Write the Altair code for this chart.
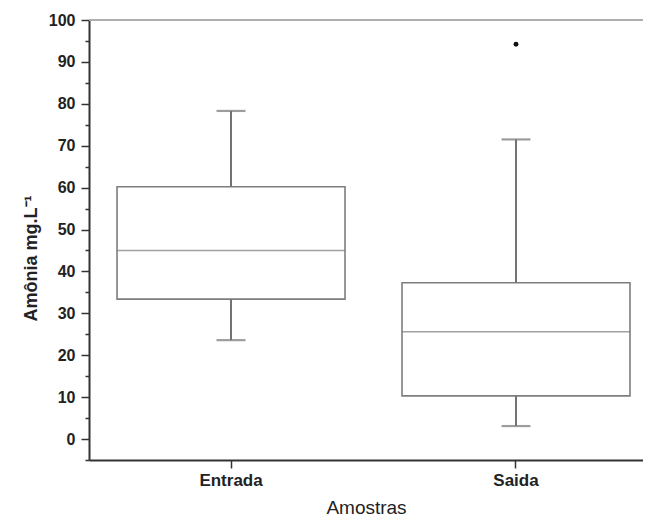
import altair as alt
import pandas as pd

# Summary statistics
amostras = ["Entrada", "Saida"]
minimo = [23.6, 3.1]
q1 = [33.4, 10.3]
mediana = [45.0, 25.6]
q3 = [60.2, 37.3]
maximo = [78.3, 71.5]

outlier_amostra = ["Saida"]
outlier_valor = [94.2]

major_ticks = list(range(0, 101, 10))
minor_ticks = list(range(-5, 100, 10))

W, H = 554, 440
FONT = "Liberation Sans"
BOX_COLOR = "#7e7e7e"
AXIS_COLOR = "#333333"

df = pd.DataFrame({"amostra": amostras, "min": minimo, "q1": q1,
                   "med": mediana, "q3": q3, "max": maximo})
df_out = pd.DataFrame({"amostra": outlier_amostra, "valor": outlier_valor})

xscale = alt.Scale(domain=amostras, paddingInner=0.2, paddingOuter=0.072, align=0.683)
yscale = alt.Scale(domain=[-5, 100], nice=False, zero=False)

x_enc = alt.X("amostra:N", scale=xscale, sort=amostras,
              axis=alt.Axis(title="Amostras", labelAngle=0, labelFont=FONT,
                            labelFontSize=17, labelFontWeight="bold", labelColor="#222",
                            labelPadding=4, tickSize=8, tickWidth=1.5, tickColor=AXIS_COLOR,
                            domainColor=AXIS_COLOR, domainWidth=2,
                            titleFont=FONT, titleFontSize=19, titleFontWeight="normal",
                            titleColor="#222", titlePadding=10))

base = alt.Chart(df)

boxes = base.mark_bar(fill="white", stroke=BOX_COLOR, strokeWidth=1.6).encode(
    x=x_enc,
    y=alt.Y("q1:Q", scale=yscale,
            axis=alt.Axis(values=major_ticks, title="Amônia mg.L⁻¹", labelFont=FONT,
                          labelFontSize=16, labelFontWeight="bold", labelColor="#222",
                          labelPadding=6, tickSize=8, tickWidth=1.5, tickColor=AXIS_COLOR,
                          domainColor=AXIS_COLOR, domainWidth=2, grid=False,
                          titleFont=FONT, titleFontSize=18, titleFontWeight="bold",
                          titleColor="#222", titleX=-58, titleY=238,
                          titleBaseline="middle", titleAngle=270)),
    y2="q3:Q",
)

minor = base.mark_rule(opacity=0).encode(
    y=alt.Y("med:Q", scale=yscale,
            axis=alt.Axis(values=minor_ticks, labels=False, title=None, tickSize=4,
                          tickWidth=1.5, tickColor=AXIS_COLOR, domain=False,
                          grid=False, orient="left")),
)

median = base.mark_tick(size=228, thickness=1.6, color="#777777", orient="horizontal").encode(
    x=alt.X("amostra:N", scale=xscale, sort=amostras),
    y=alt.Y("med:Q", scale=yscale, axis=None),
)

whisk_hi = base.mark_rule(color="#737373", strokeWidth=2).encode(
    x=alt.X("amostra:N", scale=xscale, sort=amostras),
    y=alt.Y("q3:Q", scale=yscale, axis=None), y2="max:Q")
whisk_lo = base.mark_rule(color="#737373", strokeWidth=2).encode(
    x=alt.X("amostra:N", scale=xscale, sort=amostras),
    y=alt.Y("min:Q", scale=yscale, axis=None), y2="q1:Q")

cap_hi = base.mark_tick(size=29, thickness=2.2, color="#737373", orient="horizontal").encode(
    x=alt.X("amostra:N", scale=xscale, sort=amostras),
    y=alt.Y("max:Q", scale=yscale, axis=None))
cap_lo = base.mark_tick(size=29, thickness=2.2, color="#737373", orient="horizontal").encode(
    x=alt.X("amostra:N", scale=xscale, sort=amostras),
    y=alt.Y("min:Q", scale=yscale, axis=None))

outliers = alt.Chart(df_out).mark_point(filled=True, color="#111", size=24, opacity=1).encode(
    x=alt.X("amostra:N", scale=xscale, sort=amostras),
    y=alt.Y("valor:Q", scale=yscale, axis=None))

top_line = base.mark_rule(color="#aaaaaa", strokeWidth=1.6).encode(
    x=alt.value(0), x2=alt.value(W), y=alt.value(0))

chart = alt.layer(
    top_line, boxes, minor, median, whisk_hi, whisk_lo, cap_hi, cap_lo, outliers
).resolve_axis(y="independent").properties(
    width=W, height=H,
    autosize=alt.AutoSizeParams(type="none"),
    padding={"left": 81, "top": 12, "right": 0, "bottom": 60},
).configure_view(stroke=None).configure(background="white")

chart.save("out.html", embed_options={"renderer": "svg", "actions": False})
